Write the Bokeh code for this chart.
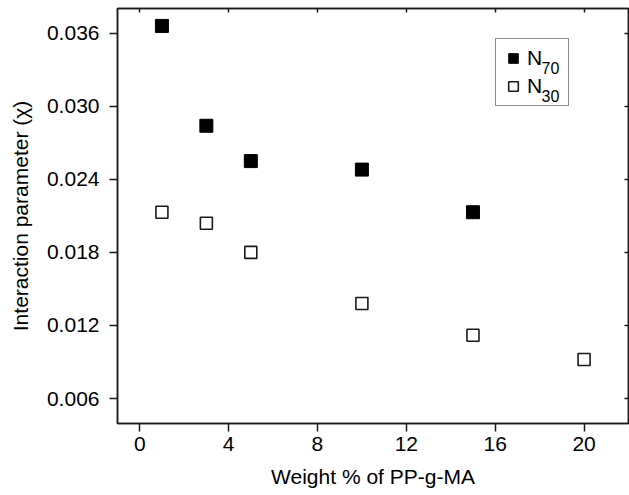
from bokeh.plotting import figure
from bokeh.models import (Range1d, FixedTicker, LinearAxis, PrintfTickFormatter,
                          Legend, LegendItem, CustomJSTickFormatter, Label)
from bokeh.embed import file_html
from bokeh.resources import INLINE

# data
weight_n70 = [1, 3, 5, 10, 15]
chi_n70 = [0.0366, 0.0284, 0.0255, 0.0248, 0.0213]
weight_n30 = [1, 3, 5, 10, 15, 20]
chi_n30 = [0.0213, 0.0204, 0.0180, 0.0138, 0.0112, 0.0092]
x_ticks = [0, 4, 8, 12, 16, 20]
y_ticks = [0.006, 0.012, 0.018, 0.024, 0.030, 0.036]
series_base = "N"
sub_n70 = "70"
sub_n30 = "30"

FONT = "Liberation Sans"
INK = "#1a1a1a"

p = figure(width=629, height=495, x_range=Range1d(-1, 22),
           y_range=Range1d(0.00395, 0.03803), output_backend="svg",
           toolbar_location=None, min_border_left=117, min_border_right=1,
           min_border_top=8, min_border_bottom=72)
p.background_fill_color = "white"
p.border_fill_color = "white"
p.xgrid.visible = False
p.ygrid.visible = False
p.outline_line_color = INK
p.outline_line_width = 1.5

for ax, ticks in ((p.xaxis[0], x_ticks), (p.yaxis[0], y_ticks)):
    ax.ticker = FixedTicker(ticks=ticks, minor_ticks=[])
    ax.major_tick_out = 8
    ax.major_tick_in = 0
    ax.minor_tick_out = 0
    ax.minor_tick_in = 0
    ax.axis_line_color = INK
    ax.axis_line_width = 1.5
    ax.major_tick_line_color = INK
    ax.major_tick_line_width = 1.5
    ax.major_label_text_font = FONT
    ax.major_label_text_font_size = "21px"
    ax.major_label_text_color = "black"
    ax.axis_label_text_font = FONT
    ax.axis_label_text_font_size = "21px"
    ax.axis_label_text_font_style = "normal"
    ax.axis_label_text_color = "black"

p.xaxis.axis_label = "Weight % of PP-g-MA"
p.yaxis.axis_label = "Interaction parameter (\u03c7)"
p.yaxis.formatter = PrintfTickFormatter(format="%.3f")
p.xaxis.major_label_standoff = 5
p.xaxis.axis_label_standoff = 11
p.yaxis.major_label_standoff = 10
p.yaxis.axis_label_standoff = 12

blank = CustomJSTickFormatter(code="return ''")
top_axis = LinearAxis(ticker=FixedTicker(ticks=x_ticks, minor_ticks=[]),
                      formatter=blank, major_tick_in=4, major_tick_out=0,
                      minor_tick_in=0, minor_tick_out=0, axis_line_color=INK,
                      axis_line_width=1.5, major_tick_line_color=INK,
                      major_tick_line_width=1.5, major_label_standoff=0,
                      major_label_text_font_size="1px")
right_axis = LinearAxis(ticker=FixedTicker(ticks=y_ticks, minor_ticks=[]),
                        formatter=blank, major_tick_in=4, major_tick_out=0,
                        minor_tick_in=0, minor_tick_out=0, axis_line_color=INK,
                        axis_line_width=1.5, major_tick_line_color=INK,
                        major_tick_line_width=1.5, major_label_standoff=0,
                        major_label_text_font_size="1px")
p.add_layout(top_axis, "above")
p.add_layout(right_axis, "right")

r70 = p.scatter(weight_n70, chi_n70, marker="square", size=13,
                fill_color="black", line_color="black", line_width=1)
r30 = p.scatter(weight_n30, chi_n30, marker="square", size=12,
                fill_color="white", line_color=INK, line_width=1.6)

legend = Legend(items=[LegendItem(label=series_base, renderers=[r70]),
                       LegendItem(label=series_base, renderers=[r30])],
                location=(378, 317))
legend.border_line_color = INK
legend.border_line_width = 1.5
legend.background_fill_alpha = 0
legend.label_text_font = FONT
legend.label_text_font_size = "21px"
legend.label_text_color = "black"
legend.glyph_width = 24
legend.glyph_height = 28
legend.label_height = 28
legend.label_width = 36
legend.padding = 5
legend.spacing = 0
legend.label_standoff = 2
legend.margin = 0
p.add_layout(legend, "center")

for sub, sy in ((sub_n70, 355.3), (sub_n30, 327.3)):
    p.add_layout(Label(x=424, y=sy, x_units="screen", y_units="screen",
                       text=sub, text_font=FONT, text_font_size="16px",
                       text_color="black", text_baseline="alphabetic",
                       text_align="left", level="overlay"))

open("out.html", "w").write(file_html(p, INLINE))
